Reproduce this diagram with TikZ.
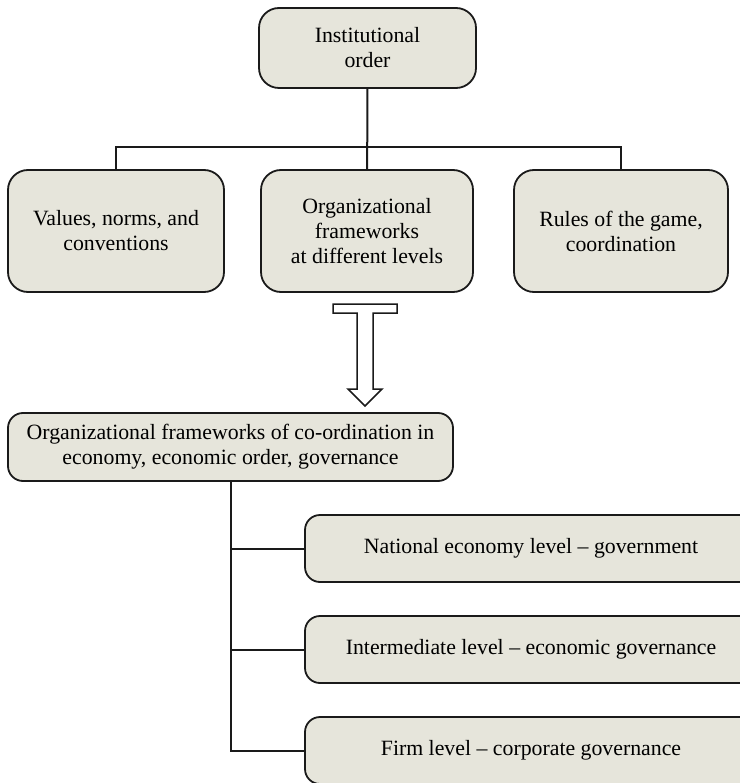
\documentclass[tikz,border=0pt]{standalone}
\usepackage{fontspec}
\setmainfont{Liberation Serif}
\usetikzlibrary{positioning}
\definecolor{iofill}{HTML}{E6E5DB}
\definecolor{ioline}{HTML}{1A1A1A}
\tikzstyle{iobox}=[draw=ioline,fill=iofill,line width=1.8pt,rounded corners=20pt,align=center,
  font=\fontsize{21.8}{25}\selectfont,inner sep=2pt]
\tikzstyle{iolevel}=[iobox,rounded corners=15pt,minimum width=452pt,minimum height=67pt]
\tikzstyle{iolink}=[draw=ioline,line width=2pt]

\begin{document}
\begin{tikzpicture}[x=1pt,y=-1pt]
    \useasboundingbox (0,0) rectangle (739,783);
    % ---- top level ----
    \node[iobox,minimum width=217pt,minimum height=80pt] (inst) at (367.5,48) {Institutional\\order};

    % ---- three components ----
    \node[iobox,minimum width=216pt,minimum height=122pt] (vals)  at (116,231) {Values, norms, and\\conventions};
    \node[iobox,minimum width=212pt,minimum height=122pt] (orgf)  at (367,231) {Organizational\\frameworks\\at different levels};
    \node[iobox,minimum width=214pt,minimum height=122pt] (rules) at (621,231) {Rules of the game,\\coordination};
    \draw[iolink] (inst) -- (orgf);
    \draw[iolink] (vals.north) -- ++(0,-22) -| (rules.north);

    % hollow arrow
    \draw[draw=ioline,line width=1.5pt,fill=white] (333,304) -- (397,304) -- (397,313) -- (373,313)
      -- (373,389) -- (382,389) -- (365,406) -- (348,389) -- (357,389) -- (357,313) -- (333,313) -- cycle;

    % ---- co-ordination frameworks ----
    \node[iobox,rounded corners=15pt,minimum width=445pt,minimum height=68pt] (coord) at (230.5,447)
      {Organizational frameworks of co-ordination in\\economy, economic order, governance};

    \node[iolevel] (nat)  at (531,548.5) {National economy level -- government};
    \node[iolevel] (intm) at (531,649.5) {Intermediate level -- economic governance};
    \node[iolevel] (firm) at (531,750.5) {Firm level -- corporate governance};

    \foreach \b in {nat,intm,firm} {\draw[iolink] (coord.south) |- (\b.west);}
\end{tikzpicture}
\end{document}
